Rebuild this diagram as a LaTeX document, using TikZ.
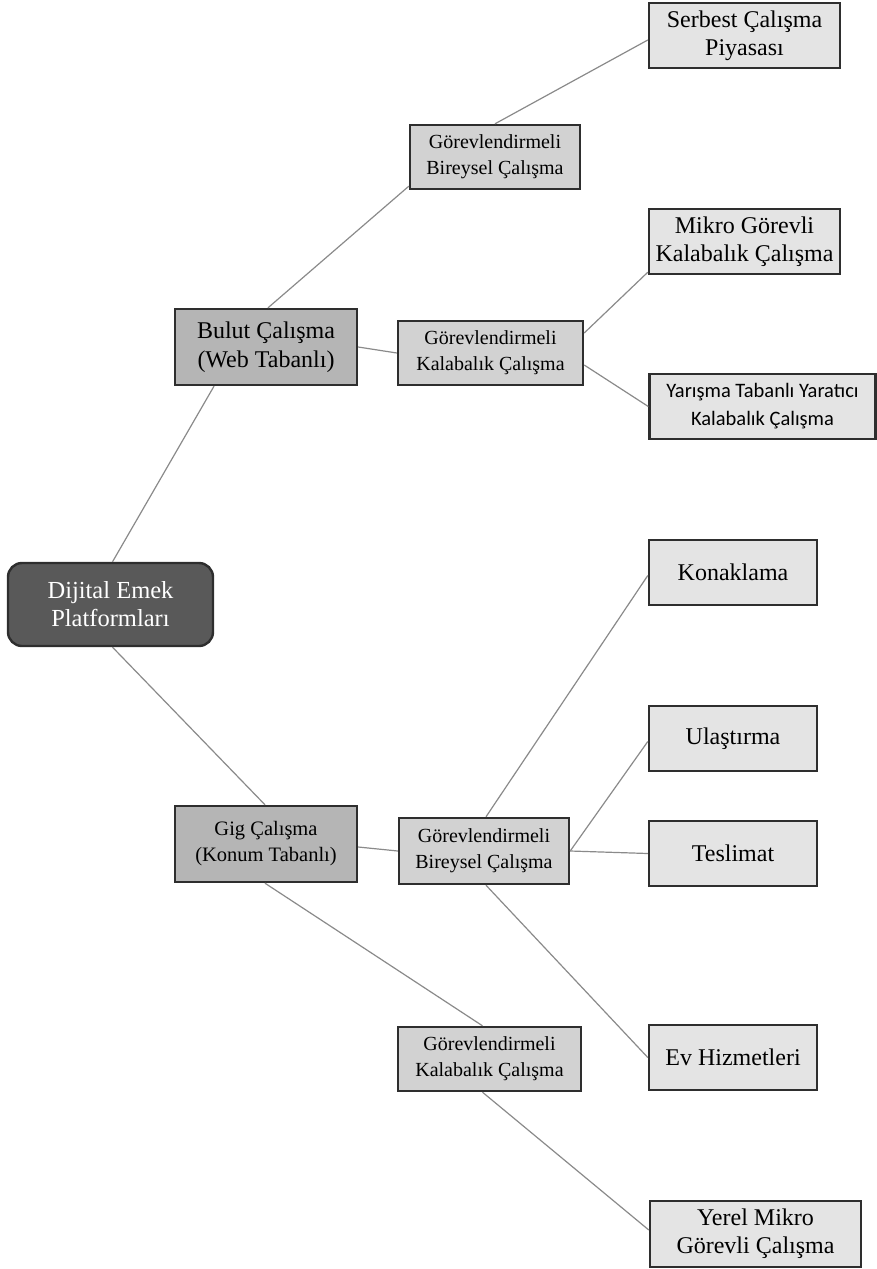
\documentclass[tikz,border=0pt]{standalone}
\usepackage{fontspec}
\setmainfont{Liberation Serif}
\newfontfamily\calibrifont{Carlito}
\definecolor{rootgray}{HTML}{595959}
\definecolor{midgray}{HTML}{B5B5B5}
\definecolor{subgray}{HTML}{D2D2D2}
\definecolor{leafgray}{HTML}{E4E4E4}
\definecolor{framegray}{HTML}{2E2E2E}
\definecolor{linkgray}{HTML}{8A8A8A}
\begin{document}
\begin{tikzpicture}[x=1pt,y=-1pt]
        \tikzset{box/.style = {shape=rectangle,draw=framegray,line width=2.4pt,align=center,inner sep=2pt}}
        \tikzset{rootbox/.style = {box,rounded corners=14pt,fill=rootgray,text=white,
                minimum width=205pt,minimum height=83pt,font=\fontsize{24.5}{28}\selectfont}}
        \tikzset{midbox/.style = {box,fill=midgray,minimum width=182pt,minimum height=76pt}}
        \tikzset{subbox/.style = {box,fill=subgray,minimum height=64pt,font=\fontsize{20}{26}\selectfont}}
        \tikzset{leafbox/.style = {box,fill=leafgray,minimum height=65pt,font=\fontsize{24}{28}\selectfont}}
        \tikzset{edge/.style = {draw=linkgray,line width=1.2pt}}
        \useasboundingbox (0,0) rectangle (877,1269);
        % root
        \node[rootbox] (root) at (110.5,604.5) {Dijital Emek\\Platformları};
        % second level
        \node[midbox,font=\fontsize{24}{29}\selectfont] (bulut) at (266,347) {Bulut Çalışma\\(Web Tabanlı)};
        \node[midbox,font=\fontsize{20.5}{26}\selectfont] (gig) at (266,844) {Gig Çalışma\\(Konum Tabanlı)};
        % third level
        \node[subbox,minimum width=170pt] (gbw) at (495,157) {Görevlendirmeli\\Bireysel Çalışma};
        \node[subbox,minimum width=185pt] (gkw) at (490.5,353) {Görevlendirmeli\\Kalabalık Çalışma};
        \node[subbox,minimum width=170pt,minimum height=66pt] (gbk) at (484,851) {Görevlendirmeli\\Bireysel Çalışma};
        \node[subbox,minimum width=183pt] (gkk) at (489.5,1059) {Görevlendirmeli\\Kalabalık Çalışma};
        % leaves on the right
        \node[leafbox,minimum width=191pt] (serbest) at (744.5,35.5) {Serbest Çalışma\\Piyasası};
        \node[leafbox,minimum width=191pt] (mikro) at (744.5,241.5) {Mikro Görevli\\Kalabalık Çalışma};
        \node[leafbox,minimum width=226pt,font=\calibrifont\fontsize{20.5}{28}\selectfont] (yarisma) at (762.5,406.5) {Yarışma Tabanlı Yaratıcı\\Kalabalık Çalışma};
        \node[leafbox,minimum width=168pt] (konaklama) at (733,572.5) {Konaklama};
        \node[leafbox,minimum width=168pt] (ulastirma) at (733,738.5) {Ulaştırma};
        \node[leafbox,minimum width=168pt] (teslimat) at (733,853.5) {Teslimat};
        \node[leafbox,minimum width=168pt] (ev) at (733,1057.5) {Ev Hizmetleri};
        \node[leafbox,minimum width=211pt,minimum height=66pt] (yerel) at (755.5,1234) {Yerel Mikro\\Görevli Çalışma};
        % links
        \draw[edge] ([xshift=2pt]root.north) -- ([xshift=-52pt]bulut.south);
        \draw[edge] ([xshift=2pt]root.south) -- ([xshift=-1pt]gig.north);
        \draw[edge] ([xshift=2pt]bulut.north) -- ([yshift=4pt]gbw.south west);
        \draw[edge] (gbw.north) -- ([yshift=-4.5pt]serbest.west);
        \draw[edge] (bulut.east) -- (gkw.west);
        \draw[edge] ([yshift=20pt]gkw.east) -- ([yshift=3pt]mikro.south west);
        \draw[edge] ([yshift=-12pt]gkw.east) -- (yarisma.west);
        \draw[edge] ([yshift=-3pt]gig.east) -- (gbk.west);
        \draw[edge] ([xshift=2pt]gbk.north) -- ([yshift=-3pt]konaklama.west);
        \draw[edge] (gbk.east) -- ([yshift=-3pt]ulastirma.west);
        \draw[edge] (gbk.east) -- (teslimat.west);
        \draw[edge] ([xshift=2pt]gbk.south) -- (ev.west);
        \draw[edge] ([xshift=-1pt]gig.south) -- ([xshift=-7pt]gkk.north);
        \draw[edge] ([xshift=-7pt]gkk.south) -- ([yshift=4pt]yerel.west);
\end{tikzpicture}
\end{document}
